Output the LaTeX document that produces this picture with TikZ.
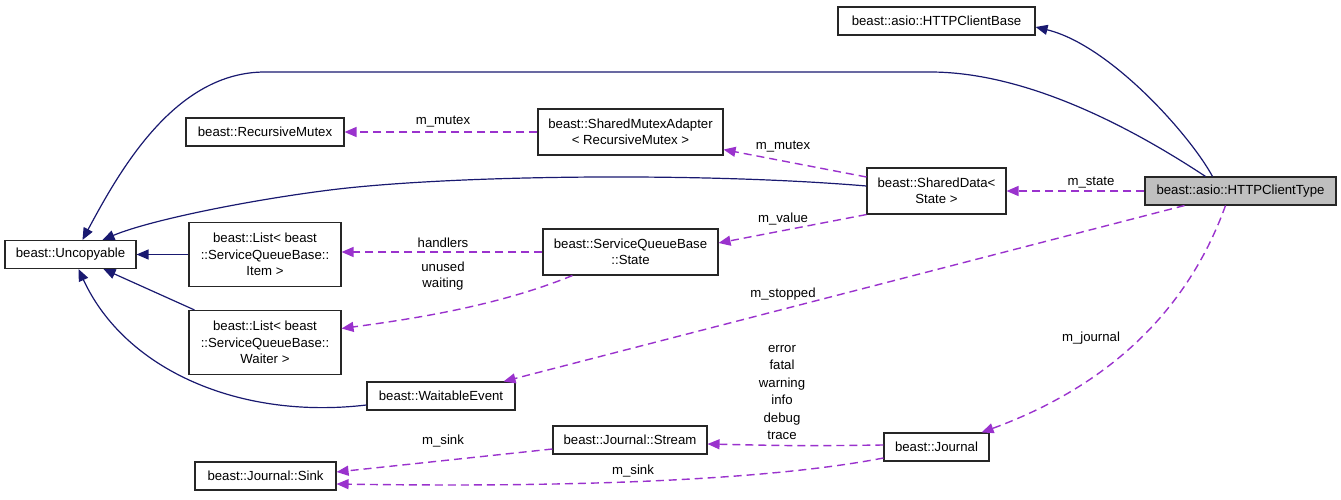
\documentclass[tikz,border=0pt]{standalone}
\usepackage{fontspec}
\setmainfont{Liberation Sans}
\usetikzlibrary{arrows.meta,calc}
\definecolor{navy}{HTML}{191970}
\definecolor{orchid}{HTML}{9A32CD}
\definecolor{gfill}{HTML}{BFBFBF}
\begin{document}
\begin{tikzpicture}[x=1pt,y=-1pt,
  every node/.style={font=\fontsize{13.2}{16.5}\selectfont},
  cls/.style={draw=black!85, line width=1.1pt, rectangle, inner sep=0pt, align=center, fill=white},
  inh/.style={draw=navy, line width=1.2pt, -{Triangle[length=12pt,width=10pt]}},
  use/.style={draw=orchid, line width=1.4pt, dash pattern=on 8pt off 5pt, -{Triangle[length=12pt,width=10pt]}},
  lbl/.style={inner sep=0pt, align=center}]
\useasboundingbox (0,0) rectangle (1341,500);
% nodes
\node[cls, minimum width=197pt, minimum height=28pt] (base) at (936.5,21) {beast::asio::HTTPClientBase};
\node[cls, fill=gfill, minimum width=191pt, minimum height=28pt] (type) at (1240.5,191) {beast::asio::HTTPClientType};
\node[cls, minimum width=139pt, minimum height=46pt] (shared) at (936.5,191) {beast::SharedData<\\State >};
\node[cls, minimum width=185pt, minimum height=46pt] (adapter) at (630.5,132) {beast::SharedMutexAdapter\\< RecursiveMutex >};
\node[cls, minimum width=158pt, minimum height=28pt] (recursive) at (265,132) {beast::RecursiveMutex};
\node[cls, minimum width=131pt, minimum height=28pt] (unc) at (70.5,254.5) {beast::Uncopyable};
\node[cls, minimum width=152pt, minimum height=64pt] (item) at (265,254.5) {beast::List< beast\\::ServiceQueueBase::\\Item >};
\node[cls, minimum width=175pt, minimum height=46pt] (state) at (630.5,252) {beast::ServiceQueueBase\\::State};
\node[cls, minimum width=152pt, minimum height=64pt] (waiter) at (265,342.5) {beast::List< beast\\::ServiceQueueBase::\\Waiter >};
\node[cls, minimum width=148pt, minimum height=28pt] (waitable) at (441,396) {beast::WaitableEvent};
\node[cls, minimum width=154pt, minimum height=28pt] (stream) at (630,440) {beast::Journal::Stream};
\node[cls, minimum width=141pt, minimum height=28pt] (sink) at (265.5,476) {beast::Journal::Sink};
\node[cls, minimum width=105pt, minimum height=28pt] (journal) at (936.5,447) {beast::Journal};
% inheritance
\draw[inh] ($(type.north)+(-28,0)$) .. controls (1190,135) and (1110,45) .. ($(base.east)+(0,6)$);
\draw[inh] ($(type.north)+(-35,0)$) .. controls (1120,120) and (1020,72) .. (930,72) -- (265,72) .. controls (175,72) and (120,170) .. ($(unc.north)+(12,0)$);
\draw[inh] ($(shared.west)+(0,-5)$) .. controls (700,172) and (450,175) .. (330,190) .. controls (250,200) and (150,220) .. ($(unc.north)+(32,0)$);
\draw[inh] (item.west) -- (unc.east);
\draw[inh] ($(waiter.north west)+(6,0)$) -- ($(unc.south)+(33,0)$);
\draw[inh] ($(waitable.west)+(0,9)$) .. controls (240,420) and (125,370) .. ($(unc.south)+(8,0)$);
% usage
\draw[use] (adapter.west) -- (recursive.east);
\node[lbl] (l1) at (443,122) {m\_mutex};
\draw[use] ($(shared.west)+(0,-14)$) -- ($(adapter.south east)+(0,-6)$);
\node[lbl] (l2) at (783,147) {m\_mutex};
\draw[use] (type.west) -- (shared.east);
\node[lbl] (l3) at (1091,183) {m\_state};
\draw[use] (shared.south west) -- ($(state.east)+(0,-9)$);
\node[lbl] (l4) at (783,219) {m\_value};
\draw[use] (state.west) -- (state.west -| item.east);
\node[lbl] (l5) at (443,243) {handlers};
\draw[use] ($(state.south west)+(30,0)$) .. controls (500,305) and (420,318) .. ($(waiter.east)+(0,-14)$);
\node[lbl] (l6) at (443,276) {unused\\waiting};
\draw[use] ($(type.south west)+(40,0)$) -- ($(waitable.north east)+(-12,0)$);
\node[lbl] (l7) at (783,294) {m\_stopped};
\draw[use] ($(type.south)+(-15,0)$) .. controls (1195,290) and (1130,378) .. ($(journal.north east)+(-8,0)$);
\node[lbl] (l8) at (1091,338) {m\_journal};
\draw[use] ($(journal.west)+(0,-2)$) .. controls (800,446) .. ($(stream.east)+(0,4)$);
\node[lbl, font=\fontsize{13.2}{17.4}\selectfont] (l9) at (782,392.5) {error\\fatal\\warning\\info\\debug\\trace};
\draw[use] ($(stream.west)+(0,9)$) -- ($(sink.east)+(0,-4)$);
\node[lbl] (l10) at (443,441) {m\_sink};
\draw[use] ($(journal.west)+(0,11)$) .. controls (780,478) and (600,488) .. ($(sink.east)+(0,8)$);
\node[lbl] (l11) at (633,471) {m\_sink};
\end{tikzpicture}
\end{document}
